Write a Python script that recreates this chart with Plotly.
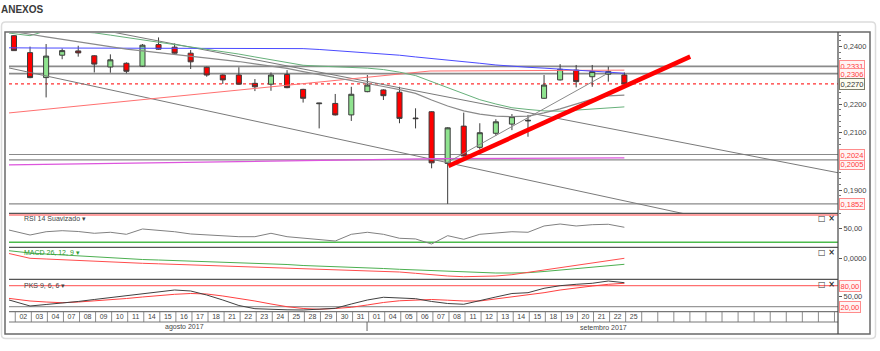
import plotly.graph_objects as go

# ---------------- data ----------------
dates = ["02","03","04","07","08","09","10","11","14","15","16","17","18","21","22","23","24","25","28","29","30","31",
         "01","04","05","06","07","08","11","12","13","14","15","18","19","20","21","22","25"]
months = ["agosto 2017", "setembro 2017"]

opens  = [0.2438,0.2379,0.2292,0.2370,0.2385,0.2368,0.2329,0.2342,0.2332,0.2407,0.2398,0.2377,0.2328,0.2301,0.2301,0.2272,0.2269,0.2303,0.2251,0.2201,
          0.2202,0.2162,0.2243,0.2249,0.2241,0.2151,0.2173,0.1993,0.2123,0.2049,0.2098,0.2130,0.2141,0.2220,0.2284,0.2318,0.2295,0.2304,0.2301]
highs  = [0.2440,0.2400,0.2409,0.2394,0.2403,0.2370,0.2373,0.2345,0.2409,0.2432,0.2411,0.2388,0.2330,0.2303,0.2328,0.2287,0.2310,0.2318,0.2253,0.2204,
          0.2235,0.2260,0.2301,0.2251,0.2260,0.2185,0.2175,0.2119,0.2170,0.2133,0.2147,0.2165,0.2162,0.2301,0.2339,0.2336,0.2336,0.2330,0.2310]
lows   = [0.2385,0.2290,0.2223,0.2356,0.2365,0.2310,0.2309,0.2307,0.2330,0.2389,0.2375,0.2322,0.2295,0.2270,0.2268,0.2245,0.2246,0.2255,0.2205,0.2115,
          0.2160,0.2141,0.2241,0.2214,0.2133,0.2115,0.1976,0.1852,0.2017,0.2042,0.2089,0.2109,0.2086,0.2218,0.2282,0.2258,0.2260,0.2278,0.2266]
closes = [0.2386,0.2292,0.2367,0.2386,0.2378,0.2339,0.2354,0.2314,0.2405,0.2391,0.2377,0.2347,0.2301,0.2284,0.2269,0.2260,0.2301,0.2257,0.2220,0.2203,
          0.2162,0.2234,0.2266,0.2229,0.2150,0.2149,0.1995,0.2117,0.2019,0.2100,0.2138,0.2156,0.2143,0.2266,0.2321,0.2278,0.2313,0.2313,0.2270]

# indicator / moving-average series start one session before the first visible date (index -1)
ma_blue = [0.2396,0.2395,0.2395,0.2395,0.2395,0.2395,0.2395,0.2395,0.2395,0.2394,0.2394,0.2394,0.2394,0.2394,0.2394,0.2394,0.2394,0.2394,
           0.2393,0.2393,0.2390,0.2386,0.2383,0.2379,0.2376,0.2370,0.2364,0.2359,0.2353,0.2348,0.2342,0.2336,0.2331,0.2328,0.2325,0.2322,0.2318,0.2315,0.2311,0.2307]
ma_green = [0.2452,0.2446,0.2438,0.2455,0.2452,0.2452,0.2448,0.2440,0.2432,0.2424,0.2416,0.2408,0.2399,0.2390,0.2382,0.2374,0.2364,0.2354,0.2344,0.2335,
            0.2332,0.2330,0.2328,0.2325,0.2320,0.2311,0.2299,0.2278,0.2257,0.2236,0.2215,0.2200,0.2187,0.2181,0.2176,0.2175,0.2179,0.2184,0.2188,0.2190]
ma_gray = [0.2461,0.2451,0.2443,0.2434,0.2425,0.2417,0.2408,0.2399,0.2391,0.2385,0.2379,0.2373,0.2367,0.2361,0.2355,0.2348,0.2340,0.2332,0.2324,0.2313,
           0.2303,0.2292,0.2282,0.2271,0.2261,0.2250,0.2237,0.2214,0.2193,0.2176,0.2165,0.2158,0.2156,0.2158,0.2169,0.2183,0.2200,0.2217,0.2228,0.2231]

rsi = [51.8,46.3,40.7,45.5,47.0,45.8,43.2,44.7,41.7,49.5,48.0,45.5,42.2,40.7,39.3,38.2,38.2,43.2,38.2,35.9,
       34.4,31.9,41.7,44.7,41.7,35.9,34.9,27.5,39.7,34.4,41.7,44.1,45.5,44.7,53.9,56.8,53.9,55.8,56.4,52.0]
macd_green = [0.00176,0.00136,0.00106,0.00086,0.00066,0.00046,0.00026,0.00006,-0.00014,-0.00024,-0.00034,-0.00044,-0.00054,-0.00064,-0.00074,
              -0.00084,-0.00094,-0.00114,-0.00124,-0.00144,-0.00154,-0.00168,-0.00184,-0.00194,-0.00204,-0.0022,-0.00234,-0.00248,-0.00264,-0.00274,
              -0.00288,-0.00294,-0.00294,-0.00288,-0.00264,-0.00234,-0.002,-0.00174,-0.00144,-0.0012]
macd_red = [0.00146,0.00066,0.0,-0.00014,-0.0003,-0.00044,-0.00064,-0.00074,-0.00088,-0.001,-0.0011,-0.0012,-0.00134,-0.00148,-0.00154,
            -0.00164,-0.00174,-0.00184,-0.00194,-0.00204,-0.00214,-0.00234,-0.0024,-0.00244,-0.00254,-0.00274,-0.003,-0.00334,-0.00354,-0.00368,
            -0.00368,-0.00354,-0.00328,-0.0028,-0.00234,-0.00184,-0.00134,-0.00084,-0.0004,0.0]
pks_k = [48.3,35.1,22.0,26.3,29.7,34.9,40.6,45.7,50.6,56.3,62.0,67.7,64.9,53.4,39.1,23.4,14.3,12.0,11.1,10.6,
         12.0,15.4,27.7,39.1,46.9,45.4,42.9,34.9,29.1,26.9,36.3,47.7,57.7,60.0,72.6,80.0,84.0,86.9,93.4,88.6]
pks_d = [47.7,42.0,36.3,33.4,31.4,33.4,36.3,39.1,43.4,47.7,52.0,55.4,57.7,56.3,50.6,44.3,36.3,27.7,20.0,14.9,
         12.6,14.9,18.3,24.9,32.0,36.9,39.1,40.6,38.6,36.3,36.3,42.0,46.9,53.4,60.0,67.7,74.3,79.1,84.0,86.9]

# drawn straight lines: (session index, price) anchor points
chan_low_idx, chan_low_px = [-1, 45], [0.2334, 0.1778]
chan_up_idx, chan_up_px = [5, 52], [0.2463, 0.1953]
support_idx, support_px = [27, 37], [0.1997, 0.2308]
red_thin_idx, red_thin_px = [-1, 25.9, 38], [0.2165, 0.2315, 0.2318]
magenta_idx, magenta_px = [-1, 26.5, 38], [0.1987, 0.2010, 0.2012]
trend_idx, trend_px = [27.05, 42.1], [0.1984, 0.2365]

levels_red = [0.2331, 0.2306, 0.2005, 0.2024, 0.1852]
last_price = 0.2270
rsi_levels = [70, 30]
pks_levels = [80, 20]

# ---------------- geometry helpers ----------------
W, H = 880, 351
def fx(x): return x / W
def fy(y): return 1 - y / H

XL, XR = 9, 838
X_RANGE = [-0.31, 51.3]
panels = {"main": (33, 213.3), "rsi": (213.3, 247.3), "macd": (247.3, 279.3), "pks": (279.3, 311.7), "strip": (311.7, 322)}
def dom(name):
    t, b = panels[name]
    return [fy(b), fy(t)]

n = len(dates)
idx = list(range(n))
idx_ext = list(range(-1, n))

FONT = "Liberation Sans, Arial, sans-serif"
fig = go.Figure()

def line(xs, ys, color, width, axis=("x", "y"), dash=None):
    fig.add_trace(go.Scatter(x=xs, y=ys, mode="lines", xaxis=axis[0], yaxis=axis[1],
                             line=dict(color=color, width=width, dash=dash), hoverinfo="skip", showlegend=False))

line(chan_low_idx, chan_low_px, "#7a7a7a", 1)
line(chan_up_idx, chan_up_px, "#7a7a7a", 1)
line(magenta_idx, magenta_px, "#dd55dd", 1.2)
line(red_thin_idx, red_thin_px, "#ff7070", 1)
line(idx_ext, ma_blue, "#4a4aff", 1)
line(idx_ext, ma_green, "#66b07a", 1)
line(idx_ext, ma_gray, "#8a8a8a", 1.2)
line(support_idx, support_px, "#8a8a8a", 1)

fig.add_trace(go.Candlestick(
    x=idx, open=opens, high=highs, low=lows, close=closes, xaxis="x", yaxis="y",
    increasing=dict(fillcolor="#8fe38f", line=dict(color="#3c3c3c", width=1)),
    decreasing=dict(fillcolor="#ff0000", line=dict(color="#3c3c3c", width=1)),
    whiskerwidth=0, hoverinfo="skip", showlegend=False))

line(trend_idx, trend_px, "#ff0000", 4.5)

# indicators
line(idx_ext, rsi, "#808080", 1, ("x2", "y2"))
line(idx_ext, macd_green, "#4caf50", 1, ("x3", "y3"))
line(idx_ext, macd_red, "#ff4d4d", 1, ("x3", "y3"))
line(idx_ext, pks_d, "#ff4040", 1, ("x4", "y4"))
line(idx_ext, pks_k, "#404040", 1, ("x4", "y4"))

# date strip
bx, by = [], []
for i in range(-1, 52):
    bx += [i + 0.08, i + 0.08, None]
    by += [0, 1, None]
fig.add_trace(go.Scatter(x=bx, y=by, mode="lines", xaxis="x5", yaxis="y5",
                         line=dict(color="#8c8c8c", width=1), hoverinfo="skip", showlegend=False))
fig.add_trace(go.Scatter(x=[i + 0.58 for i in idx], y=[0.45] * n, mode="text", text=dates, xaxis="x5", yaxis="y5",
                         textfont=dict(family=FONT, size=7, color="#444"), hoverinfo="skip", showlegend=False))

# ---------------- axes ----------------
ax_common = dict(range=X_RANGE, domain=[fx(XL), fx(XR)], showgrid=False, zeroline=False, fixedrange=True)
layout = dict(
    width=W, height=H, margin=dict(l=0, r=0, t=0, b=0),
    paper_bgcolor="white", plot_bgcolor="rgba(0,0,0,0)",
    separators=",.", boxgap=0.55, showlegend=False,
    font=dict(family=FONT, size=7.5, color="#444"),
)
for k, (name, yname) in enumerate([("main", "y"), ("rsi", "y2"), ("macd", "y3"), ("pks", "y4"), ("strip", "y5")], start=1):
    xkey = "xaxis" if k == 1 else f"xaxis{k}"
    ax = dict(ax_common, anchor=yname, visible=False)
    if k > 1:
        ax["matches"] = "x"
    if k == 1:
        ax["rangeslider"] = dict(visible=False)
    layout[xkey] = ax

ytick = dict(side="right", showgrid=False, zeroline=False, ticks="outside", ticklen=3, tickcolor="#555",
             tickfont=dict(family=FONT, size=7.5, color="#444"), showline=False, fixedrange=True)
main_ticks = [0.19, 0.21, 0.22, 0.24]
layout["yaxis"] = dict(ytick, anchor="x", domain=dom("main"), range=[0.18192, 0.24474], tickvals=main_ticks,
                       ticktext=[f"{v:.4f}".replace(".", ",") for v in main_ticks],
                       minor=dict(ticks="outside", ticklen=2, tickcolor="#777", dtick=0.002, tick0=0.0))
layout["yaxis2"] = dict(ytick, anchor="x2", domain=dom("rsi"), range=[22.67, 72.49], tickvals=[50], ticktext=["50,00"])
layout["yaxis3"] = dict(ytick, anchor="x3", domain=dom("macd"), range=[-0.0042, 0.0022], tickvals=[0], ticktext=["0,0000"])
layout["yaxis4"] = dict(ytick, anchor="x4", domain=dom("pks"), range=[5.71, 98.29], tickvals=[50], ticktext=["50,00"])
layout["yaxis5"] = dict(anchor="x5", domain=dom("strip"), range=[0, 1], visible=False, fixedrange=True)
fig.update_layout(**layout)

# ---------------- shapes ----------------
shapes = []
def pline(x0, y0, x1, y1, color, width=1, dash=None):
    shapes.append(dict(type="line", xref="paper", yref="paper", x0=fx(x0), y0=fy(y0), x1=fx(x1), y1=fy(y1),
                       line=dict(color=color, width=width, dash=dash), layer="above"))

r = 4
shapes.append(dict(type="path", xref="paper", yref="paper",
                   path=f"M {fx(1.5+r)},{fy(22)} L {fx(875.5-r)},{fy(22)} Q {fx(875.5)},{fy(22)} {fx(875.5)},{fy(22+r)} "
                        f"L {fx(875.5)},{fy(338.5-r)} Q {fx(875.5)},{fy(338.5)} {fx(875.5-r)},{fy(338.5)} "
                        f"L {fx(1.5+r)},{fy(338.5)} Q {fx(1.5)},{fy(338.5)} {fx(1.5)},{fy(338.5-r)} "
                        f"L {fx(1.5)},{fy(22+r)} Q {fx(1.5)},{fy(22)} {fx(1.5+r)},{fy(22)} Z",
                   line=dict(color="#dcdcdc", width=1.5), layer="below"))
shapes.append(dict(type="rect", xref="paper", yref="paper", x0=fx(5), y0=fy(334), x1=fx(870), y1=fy(32),
                   line=dict(color="#6a6a6a", width=1.5), layer="above"))
for yy in [213.3, 247.3, 279.3]:
    pline(XL, yy, XR, yy, "#555", 1.3)
pline(XL, 311.7, XR, 311.7, "#777", 1.3)
pline(XL, 322, XR, 322, "#777", 1)
pline(XR, 32, XR, 334, "#444", 1.2)

shapes.append(dict(type="line", xref="x5", yref="paper", x0=21.98, x1=21.98, y0=fy(322), y1=fy(331),
                   line=dict(color="#666", width=1)))

for lv in levels_red:
    shapes.append(dict(type="line", xref="x domain", yref="y", x0=0, x1=1, y0=lv, y1=lv,
                       line=dict(color="#8a8a8a", width=1.6 if lv > 0.22 else 1.2), layer="below"))
shapes.append(dict(type="line", xref="x domain", yref="y", x0=0, x1=1, y0=last_price, y1=last_price,
                   line=dict(color="#ff3030", width=1.3, dash="dot"), layer="below"))
for lv, col in zip(rsi_levels, ["#ff8080", "#4cbb4c"]):
    shapes.append(dict(type="line", xref="x2 domain", yref="y2", x0=0, x1=1, y0=lv, y1=lv,
                       line=dict(color=col, width=1.5), layer="below"))
for lv, col in zip(pks_levels, ["#ff7070", "#999999"]):
    shapes.append(dict(type="line", xref="x4 domain", yref="y4", x0=0, x1=1, y0=lv, y1=lv,
                       line=dict(color=col, width=1.3), layer="below"))
fig.update_layout(shapes=shapes)

# ---------------- annotations ----------------
ann = []
ann.append(dict(text="<b>ANEXOS</b>", xref="paper", yref="paper", x=fx(-1), y=fy(10), xanchor="left", yanchor="middle",
                showarrow=False, font=dict(family=FONT, size=10, color="#3a3a3a")))

def price_box(val, yref, text, red=True, yshift=0):
    ann.append(dict(text=text, xref="paper", yref=yref, x=fx(XR + 0.5), y=val, xanchor="left", yanchor="middle",
                    yshift=yshift, showarrow=False, font=dict(family=FONT, size=7.5, color="#ff3b3b" if red else "#333"),
                    bgcolor="#fff4f4" if red else "#fcfcef", bordercolor="#ff8c8c" if red else "#7d7d6a",
                    borderwidth=1, borderpad=0.5))

for lv in levels_red:
    # the two close support labels are stacked so both stay readable
    price_box(lv, "y", f"{lv:.4f}".replace(".", ","), yshift=-4 if lv == 0.2005 else 0)
price_box(last_price, "y", f"{last_price:.4f}".replace(".", ","), red=False)
for lv in pks_levels:
    price_box(lv, "y4", f"{lv:.2f}".replace(".", ","))

for label, yy, col in [("RSI 14 Suavizado ▾", 218.3, "#444"), ("MACD 26, 12, 9 ▾", 252.5, "#2e9a2e"), ("PKS 9, 6, 6 ▾", 285, "#444")]:
    ann.append(dict(text=label, xref="paper", yref="paper", x=fx(22), y=fy(yy), xanchor="left", yanchor="middle",
                    showarrow=False, font=dict(family=FONT, size=7, color=col)))
for yy in [218.3, 252.3, 284.5]:
    ann.append(dict(text="<b>□ ×</b>", xref="paper", yref="paper", x=fx(837), y=fy(yy), xanchor="right", yanchor="middle",
                    showarrow=False, font=dict(family="DejaVu Sans", size=8, color="#333")))

for m, xpos in zip(months, [10.6, 36.7]):
    ann.append(dict(text=m, xref="x5", yref="paper", x=xpos, y=fy(327), xanchor="center", yanchor="middle",
                    showarrow=False, font=dict(family=FONT, size=7, color="#444")))
fig.update_layout(annotations=ann)

fig.write_html("out.html")
